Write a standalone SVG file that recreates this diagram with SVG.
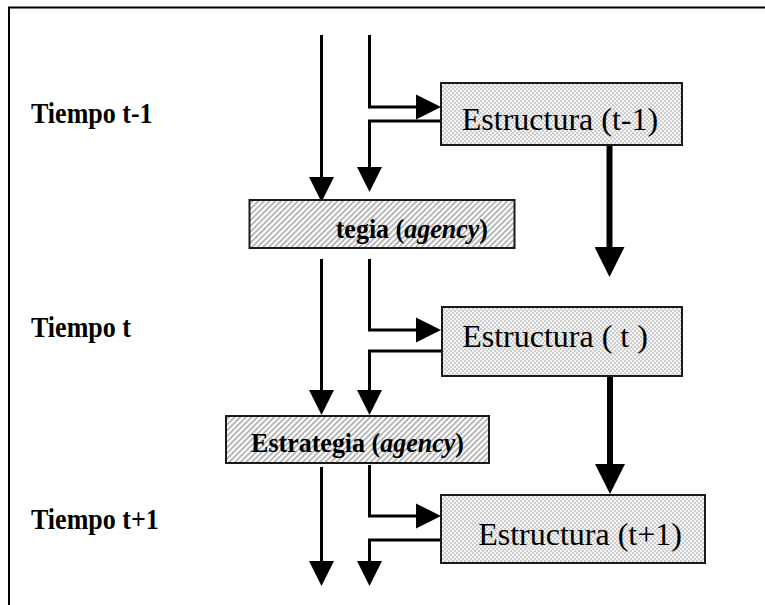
<svg xmlns="http://www.w3.org/2000/svg" width="765" height="605" viewBox="0 0 765 605">
<style>
.frame{fill:none;stroke:#000;stroke-width:2}
.thin{fill:none;stroke:#000;stroke-width:3;stroke-linejoin:miter;marker-end:url(#ah)}
.thick{fill:none;stroke:#000;stroke-width:6;marker-end:url(#ahb)}
.est{fill:url(#dots);stroke:#1a1a1a;stroke-width:2}
.str{fill:url(#hatch);stroke:#1a1a1a;stroke-width:2}
.et{font-family:"Liberation Serif","Times New Roman",serif;font-size:32px;fill:#000;text-anchor:middle}
.st{font-family:"Liberation Serif","Times New Roman",serif;font-size:26px;font-weight:bold;fill:#000}
.lab{font-family:"Liberation Serif","Times New Roman",serif;font-size:26px;font-weight:bold;fill:#000}
</style>
<defs>
<pattern id="dots" width="4" height="4" patternUnits="userSpaceOnUse">
<rect width="4" height="4" fill="#f4f4f4"/>
<circle cx="1" cy="1" r="0.9" fill="#bcbcbc"/>
<circle cx="3" cy="3" r="0.9" fill="#bcbcbc"/>
</pattern>
<pattern id="hatch" width="4" height="4" patternUnits="userSpaceOnUse" patternTransform="rotate(45)">
<rect width="4" height="4" fill="#ffffff"/>
<rect x="0" y="0" width="1.6" height="4" fill="#a8a8a8"/>
</pattern>
<marker id="ah" markerUnits="userSpaceOnUse" markerWidth="25" markerHeight="26" refX="0" refY="12.5" orient="auto" viewBox="0 0 25 25">
<path d="M0,0 L25,12.5 L0,25 Z" fill="#000"/>
</marker>
<marker id="ahb" markerUnits="userSpaceOnUse" markerWidth="30" markerHeight="30" refX="0" refY="15" orient="auto" viewBox="0 0 30 30">
<path d="M0,0 L30,15 L0,30 Z" fill="#000"/>
</marker>
</defs>
<path class="frame" d="M9,605 V7.5 H765"/>
<g id="labels">
<text class="lab" transform="translate(31,123) scale(1,1.1)">Tiempo t-1</text>
<text class="lab" transform="translate(31,337) scale(1,1.1)">Tiempo t</text>
<text class="lab" transform="translate(31,529) scale(1,1.1)">Tiempo t+1</text>
</g>
<g id="connectors">
<path class="thin" d="M321.5,35 V177"/>
<path class="thin" d="M369.5,35 V107 H416"/>
<path class="thin" d="M441,121 H369.5 V167"/>
<path class="thick" d="M609.5,145 V247"/>
<path class="thin" d="M321.5,259 V390"/>
<path class="thin" d="M369.5,259 V330 H416"/>
<path class="thin" d="M442,351 H369.5 V390"/>
<path class="thick" d="M610,376 V464"/>
<path class="thin" d="M321.5,467 V561"/>
<path class="thin" d="M369.5,465 V516 H416"/>
<path class="thin" d="M441,540 H369.5 V561"/>
</g>
<g id="estructura-t-1">
<rect class="est" x="441" y="83" width="241" height="62"/>
<text class="et" x="560" y="130">Estructura (t-1)</text>
</g>
<g id="estrategia-1">
<rect class="str" x="249.5" y="200" width="265" height="48"/>
<text class="st" text-anchor="end" transform="translate(488,238) scale(1,1.06)">tegia (<tspan font-style="italic">agency</tspan>)</text>
</g>
<g id="estructura-t">
<rect class="est" x="442" y="307" width="240" height="69"/>
<text class="et" x="555" y="347">Estructura ( t )</text>
</g>
<g id="estrategia-2">
<rect class="str" x="226" y="416" width="263" height="47"/>
<text class="st" text-anchor="middle" transform="translate(357.5,452) scale(1,1.06)">Estrategia (<tspan font-style="italic">agency</tspan>)</text>
</g>
<g id="estructura-t1">
<rect class="est" x="441" y="495" width="264" height="68"/>
<text class="et" x="580" y="545">Estructura (t+1)</text>
</g>
</svg>
